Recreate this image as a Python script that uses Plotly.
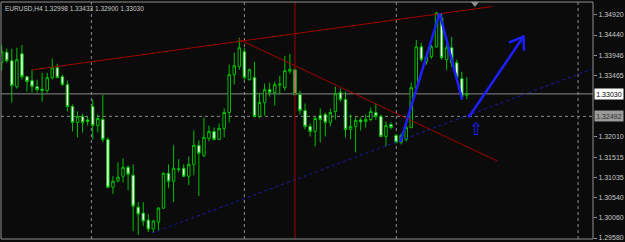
import plotly.graph_objects as go

# ---------------- data ----------------
symbol_label = "EURUSD,H4"
header_ohlc = ["1.32998", "1.33433", "1.32900", "1.33030"]

opens = [1.33776, 1.34026, 1.33824, 1.33204, 1.33991, 1.33442, 1.33347, 1.33204, 1.33144, 1.33109,
         1.33419, 1.33657, 1.33442, 1.33252, 1.32727, 1.32346, 1.32489, 1.32405, 1.32727, 1.32274,
         1.32417, 1.31940, 1.30796, 1.30951, 1.31058, 1.31273, 1.31082, 1.30319, 1.30176, 1.30009,
         1.29795, 1.29962, 1.30295, 1.31130, 1.30939, 1.31213, 1.31249, 1.31058, 1.31342, 1.31797,
         1.31559, 1.31964, 1.32131, 1.31940, 1.32203, 1.32584, 1.33490, 1.33681, 1.34038, 1.33371,
         1.33419, 1.32489, 1.32823, 1.33132, 1.33061, 1.33240, 1.33180, 1.33573, 1.33609, 1.33013,
         1.32632, 1.32250, 1.32131, 1.32513, 1.32536, 1.32346, 1.32608, 1.33061, 1.32894, 1.32179,
         1.32250, 1.32405, 1.32370, 1.32417, 1.32584, 1.32489, 1.32012, 1.32298, 1.32036, 1.31869,
         1.31940, 1.32226, 1.33180, 1.34157, 1.33800, 1.33919, 1.34157, 1.34849, 1.33848, 1.34134,
         1.33776, 1.33395, 1.32998]
highs = [1.34205, 1.34110, 1.34110, 1.34134, 1.34205, 1.33466, 1.33609, 1.33371, 1.33538, 1.33538,
         1.33871, 1.33752, 1.33490, 1.33347, 1.32775, 1.32608, 1.32560, 1.32489, 1.32894, 1.32536,
         1.33013, 1.31988, 1.31058, 1.31392, 1.31487, 1.31321, 1.31342, 1.30438, 1.30438, 1.30152,
         1.30009, 1.30319, 1.31154, 1.31342, 1.31797, 1.31464, 1.31342, 1.31535, 1.32155, 1.31917,
         1.32465, 1.32274, 1.32226, 1.32322, 1.32680, 1.33728, 1.34014, 1.34372, 1.34134, 1.33633,
         1.33800, 1.33061, 1.33276, 1.33300, 1.33323, 1.33466, 1.33943, 1.33991, 1.33633, 1.33109,
         1.32799, 1.32322, 1.32489, 1.32680, 1.32584, 1.32680, 1.33204, 1.33156, 1.33085, 1.32536,
         1.32489, 1.32465, 1.32536, 1.32703, 1.32799, 1.32536, 1.32370, 1.32346, 1.32060, 1.32084,
         1.32274, 1.33300, 1.34324, 1.34253, 1.34014, 1.34205, 1.34992, 1.34968, 1.34396, 1.34396,
         1.33848, 1.33562, 1.33433]
lows = [1.33586, 1.33776, 1.32823, 1.33156, 1.33371, 1.33085, 1.33061, 1.33061, 1.32846, 1.33061,
        1.33371, 1.33407, 1.33228, 1.32608, 1.32131, 1.31988, 1.32107, 1.32274, 1.31940, 1.32107,
        1.31869, 1.30772, 1.30629, 1.30911, 1.30911, 1.30725, 1.29747, 1.29652, 1.29866, 1.29723,
        1.29699, 1.29747, 1.30272, 1.30772, 1.30438, 1.31154, 1.31035, 1.30844, 1.31082, 1.30582,
        1.31511, 1.31893, 1.31917, 1.31928, 1.31988, 1.32346, 1.33252, 1.33609, 1.33371, 1.33347,
        1.32465, 1.32441, 1.32513, 1.32966, 1.32751, 1.33013, 1.33109, 1.33514, 1.32989, 1.32536,
        1.32179, 1.32012, 1.31774, 1.31869, 1.32012, 1.32250, 1.32417, 1.32846, 1.31988, 1.31940,
        1.31631, 1.32155, 1.32226, 1.32370, 1.32417, 1.32000, 1.31774, 1.32179, 1.31845, 1.31821,
        1.31893, 1.32203, 1.33156, 1.33800, 1.33728, 1.33871, 1.34134, 1.33848, 1.33609, 1.33681,
        1.33371, 1.32894, 1.32900]
closes = [1.34038, 1.33824, 1.33228, 1.33848, 1.33442, 1.33323, 1.33204, 1.33132, 1.33109, 1.33419,
          1.33657, 1.33419, 1.33252, 1.32727, 1.32346, 1.32489, 1.32346, 1.32370, 1.32274, 1.32441,
          1.31940, 1.30796, 1.30939, 1.31035, 1.31273, 1.31106, 1.30343, 1.30152, 1.29985, 1.29795,
          1.29985, 1.30295, 1.31130, 1.30939, 1.31249, 1.31237, 1.31058, 1.31342, 1.31797, 1.31607,
          1.31988, 1.32131, 1.31940, 1.32203, 1.32584, 1.33490, 1.33705, 1.34134, 1.33419, 1.33609,
          1.32489, 1.32823, 1.33132, 1.33068, 1.33252, 1.33264, 1.33586, 1.33621, 1.33013, 1.32632,
          1.32250, 1.32131, 1.32441, 1.32417, 1.32346, 1.32584, 1.33037, 1.32894, 1.32179, 1.32250,
          1.32392, 1.32358, 1.32417, 1.32608, 1.32489, 1.32012, 1.32274, 1.32226, 1.31869, 1.32036,
          1.32226, 1.33180, 1.34157, 1.33848, 1.33919, 1.34157, 1.34968, 1.33895, 1.34134, 1.33776,
          1.33419, 1.32966, 1.33030]
bars = list(range(len(opens)))

ytick_vals = [1.34920, 1.34440, 1.33946, 1.33465, 1.32010, 1.31515, 1.31035, 1.30540, 1.30060, 1.29580]
bid_price = 1.33030
level_price = 1.32492
grid_bars = [17.74, 48.0, 78.05, 114.0]
red_vline_bar = 58

upper_trend_x = [5.9, 97.05]
upper_trend_y = [1.33602, 1.35123]
down_trend_x = [46.82, 98.03]
down_trend_y = [1.34341, 1.31423]
channel_x = [29.72, 116.95]
channel_y = [1.29699, 1.33633]
zigzag_x = [78.84, 86.6, 91.08]
zigzag_y = [1.31876, 1.34956, 1.32894]
forecast_x = [92.34, 103.2]
forecast_y = [1.32465, 1.34403]
arrowhead_x = [100.35, 103.2, 103.3]
arrowhead_y = [1.34260, 1.34403, 1.34062]
buy_arrow_x = [93.8]
buy_arrow_y = [1.32179]
shift_mark_x = [93.6]

# ---------------- figure ----------------
X_RANGE = [-0.1375, 116.95]
Y_RANGE = [1.29556, 1.35230]
GREEN = "#00c000"
BG = "#0a0b0a"
TXT = "#c8c8c8"
FONT = "Liberation Sans"

fig = go.Figure()

fig.add_trace(go.Candlestick(
    x=bars, open=opens, high=highs, low=lows, close=closes,
    increasing=dict(line=dict(color=GREEN, width=1), fillcolor="#000000"),
    decreasing=dict(line=dict(color=GREEN, width=1), fillcolor="#ffffff"),
    whiskerwidth=0, hoverinfo="skip", showlegend=False,
))

def line(x, y, color, width, dash="solid"):
    fig.add_trace(go.Scatter(x=x, y=y, mode="lines", hoverinfo="skip", showlegend=False,
                             line=dict(color=color, width=width, dash=dash)))

line(upper_trend_x, upper_trend_y, "#a00000", 1)
line(down_trend_x, down_trend_y, "#a00000", 1)
line(channel_x, channel_y, "#1a1ab0", 1, "dot")
line(zigzag_x, zigzag_y, "#1e1eff", 2.5)
line(forecast_x, forecast_y, "#1e1eff", 2.5)
line(arrowhead_x, arrowhead_y, "#1e1eff", 2.5)

fig.add_trace(go.Scatter(x=shift_mark_x, y=[Y_RANGE[1] - 0.00035], mode="markers",
                         marker=dict(symbol="triangle-down", size=7, color="#909090"),
                         cliponaxis=False, hoverinfo="skip", showlegend=False))

shapes = []
for g in grid_bars:
    shapes.append(dict(type="line", xref="x", yref="paper", x0=g, x1=g, y0=0, y1=1,
                       line=dict(color="#8c8c8c", width=1, dash="dot"), layer="below"))
shapes.append(dict(type="line", xref="paper", yref="y", x0=0, x1=1, y0=bid_price, y1=bid_price,
                   line=dict(color="#8a8a8a", width=1), layer="below"))
shapes.append(dict(type="line", xref="paper", yref="y", x0=0, x1=1, y0=level_price, y1=level_price,
                   line=dict(color="#8a8a8a", width=1, dash="dot"), layer="below"))
shapes.append(dict(type="line", xref="x", yref="paper", x0=red_vline_bar, x1=red_vline_bar, y0=0, y1=1,
                   line=dict(color="#a00000", width=1)))
shapes.append(dict(type="rect", xref="paper", yref="paper", x0=0, x1=1, y0=0, y1=1,
                   line=dict(color="#909090", width=1)))

annotations = [
    dict(xref="paper", yref="paper", x=0, y=1, xanchor="left", yanchor="top", xshift=2, yshift=-1,
         text=symbol_label + " " + " ".join(header_ohlc), showarrow=False,
         font=dict(family=FONT, size=6.5, color=TXT)),
    dict(xref="paper", yref="y", x=1, y=bid_price, xanchor="left", yanchor="middle", xshift=1,
         text=f"{bid_price:.5f}", showarrow=False, bgcolor="#ffffff", width=26, height=8,
         font=dict(family=FONT, size=7, color="#000000")),
    dict(xref="paper", yref="y", x=1, y=level_price, xanchor="left", yanchor="middle", xshift=1,
         text=f"{level_price:.5f}", showarrow=False, bgcolor="#9a9a9a", width=26, height=8,
         font=dict(family=FONT, size=7, color="#303030")),
    dict(xref="x", yref="y", x=buy_arrow_x[0], y=buy_arrow_y[0], text="⇧", showarrow=False,
         font=dict(family="DejaVu Sans", size=17, color="#1e1eff")),
]

fig.update_layout(
    width=625, height=242,
    margin=dict(l=1, r=28, t=2, b=2),
    paper_bgcolor=BG, plot_bgcolor=BG,
    shapes=shapes, annotations=annotations,
    showlegend=False,
    xaxis=dict(range=X_RANGE, visible=False, rangeslider=dict(visible=False), fixedrange=True),
    yaxis=dict(range=Y_RANGE, side="right", tickvals=ytick_vals,
               ticktext=[f"{v:.5f}" for v in ytick_vals],
               ticks="outside", ticklen=3, tickcolor="#909090",
               ticklabeloverflow="allow",
               tickfont=dict(family=FONT, size=7, color=TXT),
               showgrid=False, zeroline=False, showline=False, fixedrange=True),
)

fig.write_html("out.html")
